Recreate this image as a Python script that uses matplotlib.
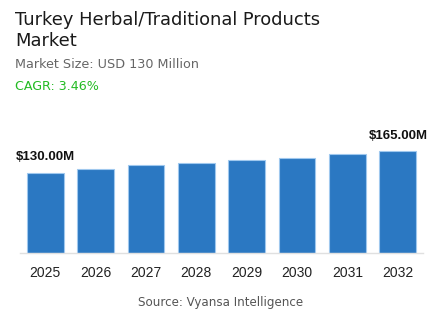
import matplotlib

matplotlib.use("Agg")
import matplotlib.pyplot as plt

years = ["2025", "2026", "2027", "2028", "2029", "2030", "2031", "2032"]
values = [130, 136, 143, 146, 150.5, 155, 160.5, 165]
labels = {0: "$130.00M", 7: "$165.00M"}

title = "Turkey Herbal/Traditional Products\nMarket"
subtitle = "Market Size: USD 130 Million"
cagr = "CAGR: 3.46%"
source = "Source: Vyansa Intelligence"

bar_color = "#2b78c2"

fig = plt.figure(figsize=(4.43, 3.32), dpi=100)
ax = fig.add_axes([0.045, 0.237, 0.91, 0.372])

x = list(range(len(years)))
ax.bar(x, values, width=0.73, color=bar_color, edgecolor="#9fc8ee", linewidth=0.8)
ax.set_xlim(-0.5, len(years) - 0.5)
ax.set_ylim(0, 200)

for i, txt in labels.items():
    ax.annotate(txt, (i, values[i]), xytext=(0, 7), textcoords="offset points",
                ha="center", va="bottom", fontsize=9.5, fontweight="bold",
                family="Liberation Sans", color="#111111")

ax.set_xticks(x)
ax.set_xticklabels(years, family="Liberation Sans", fontsize=10, color="#222222")
ax.tick_params(axis="x", length=0, pad=9)
ax.set_yticks([])
for s in ["top", "right", "left"]:
    ax.spines[s].set_visible(False)
ax.spines["bottom"].set_color("#e0e0e0")
ax.spines["bottom"].set_linewidth(1)

fig.text(0.034, 0.967, title, ha="left", va="top", fontsize=12.9,
         family="DejaVu Sans", color="#1a1a1a", linespacing=1.22)
fig.text(0.034, 0.805, subtitle, ha="left", va="center", fontsize=9.2,
         family="DejaVu Sans", color="#666666")
fig.text(0.034, 0.74, cagr, ha="left", va="center", fontsize=9.1,
         family="DejaVu Sans", color="#22bb22")
fig.text(0.497, 0.09, source, ha="center", va="center", fontsize=8.6,
         family="DejaVu Sans", color="#555555")

fig.savefig("out.png", dpi=100)
